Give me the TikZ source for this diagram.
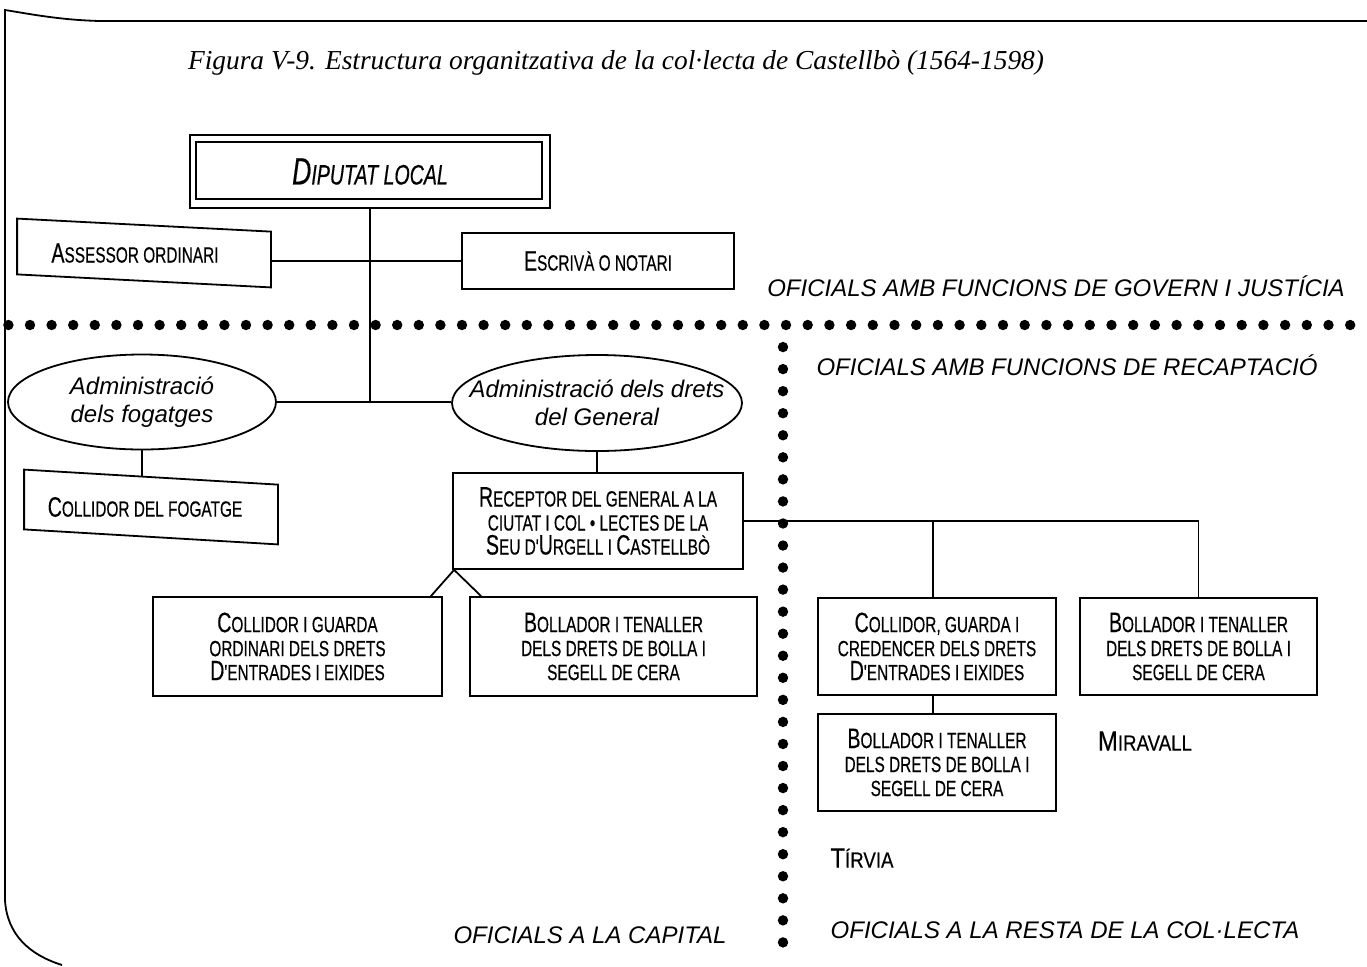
\documentclass[tikz,border=0pt]{standalone}
\usepackage{fontspec}
\setmainfont{Liberation Serif}
\newfontfamily\cond[FakeStretch=0.7,FakeBold=0.4]{Liberation Sans}
\newfontfamily\placef[FakeStretch=0.85,FakeBold=0.4]{Liberation Sans}
\newfontfamily\labf{Liberation Sans}
\usetikzlibrary{shapes.geometric}
\newcommand\bxf{\cond\fontsize{11}{12}\selectfont}
\newcommand\K[1]{{\fontsize{14}{12}\selectfont #1}}
\newcommand\KK[1]{{\fontsize{19}{14}\selectfont #1}}
\begin{document}
\begin{tikzpicture}[x=0.5pt,y=-0.5pt,line width=0.9pt,
  bx/.style={draw,rectangle,inner sep=0pt,align=center,font=\bxf},
  sk/.style={rectangle,inner sep=0pt,align=center,font=\bxf},
  el/.style={draw,ellipse,inner sep=0pt,align=center,font=\labf\itshape\fontsize{12}{14}\selectfont},
  lab/.style={inner sep=0pt,font=\labf\itshape\fontsize{12}{14}\selectfont},
  plc/.style={inner sep=0pt,font=\placef\fontsize{11}{12}\selectfont},
  dotm/.style={fill=black,draw=none}]
\useasboundingbox (0,0) rectangle (1367,966);

% page border
\draw (1367,21) -- (100,21) .. controls (60,20) and (30,14) .. (5,10) -- (5,900)
  .. controls (7,935) and (30,955) .. (62,965);

% title
\node[inner sep=0pt,font=\itshape\fontsize{13.7}{16}\selectfont] (title) at (616,63)
  {Figura V-9. Estructura organitzativa de la col·lecta de Castellbò (1564-1598)};

% nodes
\node[bx,minimum width=180pt,minimum height=36.5pt,font=\cond\itshape\fontsize{14}{14}\selectfont] (dip) at (370,171.5) {\KK{D}IPUTAT LOCAL};
\draw ([shift={(3.5pt,-4pt)}]dip.north west) rectangle ([shift={(-4.5pt,5pt)}]dip.south east);

\node[sk,minimum width=126pt,minimum height=27pt] (ass) at (144,253) {\hspace*{-9pt}\K{A}SSESSOR ORDINARI};
\draw ([yshift=3.25pt]ass.north west) -- ([yshift=-3.25pt]ass.north east) -- ([yshift=-3.25pt]ass.south east) -- ([yshift=3.25pt]ass.south west) -- cycle;

\node[bx,minimum width=136pt,minimum height=28pt] (esc) at (598,261) {\K{E}SCRIVÀ O NOTARI};

\node[el,minimum width=134pt,minimum height=47.5pt] (ell1) at (142,402) {Administració\\dels fogatges};
\node[el,minimum width=145pt,minimum height=48pt,inner xsep=-13pt] (ell2) at (597,403) {Administració dels drets\\del General};

\node[sk,minimum width=126pt,minimum height=29pt] (fog) at (151,507) {\hspace*{-6pt}\K{C}OLLIDOR DEL FOGATGE};
\draw ([yshift=3.75pt]fog.north west) -- ([yshift=-3.75pt]fog.north east) -- ([yshift=-3.75pt]fog.south east) -- ([yshift=3.75pt]fog.south west) -- cycle;

\node[bx,minimum width=145pt,minimum height=48pt] (rec) at (598,521)
  {\K{R}ECEPTOR DEL GENERAL A LA\\CIUTAT I COL • LECTES DE LA\\\K{S}EU D'\K{U}RGELL I \K{C}ASTELLBÒ};

\node[bx,minimum width=144.5pt,minimum height=49.5pt] (cg) at (297.5,646.5)
  {\K{C}OLLIDOR I GUARDA\\ORDINARI DELS DRETS\\\K{D}'ENTRADES I EIXIDES};
\node[bx,minimum width=143.5pt,minimum height=49.5pt] (bol1) at (613.5,646.5)
  {\K{B}OLLADOR I TENALLER\\DELS DRETS DE BOLLA I\\SEGELL DE CERA};

\node[bx,minimum width=119pt,minimum height=48.5pt] (cgc) at (937,646.5)
  {\K{C}OLLIDOR, GUARDA I\\CREDENCER DELS DRETS\\\K{D}'ENTRADES I EIXIDES};
\node[bx,minimum width=118.5pt,minimum height=48.5pt] (bol2) at (1198.5,646.5)
  {\K{B}OLLADOR I TENALLER\\DELS DRETS DE BOLLA I\\SEGELL DE CERA};
\node[bx,minimum width=119pt,minimum height=48.5pt] (bol3) at (937,762.5)
  {\K{B}OLLADOR I TENALLER\\DELS DRETS DE BOLLA I\\SEGELL DE CERA};

\node[plc] (mir) at (1145,741) {\K{M}IRAVALL};
\node[plc] (tir) at (862,858) {\K{T}ÍRVIA};

% region labels
\node[lab] (lgov) at (1056,286) {OFICIALS AMB FUNCIONS DE GOVERN I JUSTÍCIA};
\node[lab] (lrec) at (1067,365) {OFICIALS AMB FUNCIONS DE RECAPTACIÓ};
\node[lab] (lcap) at (590,935) {OFICIALS A LA CAPITAL};
\node[lab] (lres) at (1065,930) {OFICIALS A LA RESTA DE LA COL·LECTA};

% connectors
\coordinate (j1) at (dip.south |- ell1.east);
\draw (dip.south) -- (j1);
\draw (ass.east |- esc.west) -- (esc.west);
\draw (ell1.east) -- (ell1.east -| ell2.west);
\draw (ell1.south) -- (ell1.south |- fog.north);
\draw (ell2.south) -- (ell2.south |- rec.north);
\coordinate (fk) at ([xshift=1pt]rec.south west);
\draw ([xshift=-6pt]cg.north east) -- (fk) -- ([xshift=6pt]bol1.north west);
\coordinate (j2) at (bol2.north |- rec.east);
\coordinate (j3) at ([xshift=-2pt]cgc.north |- rec.east);
\draw (rec.east) -- (j2) -- (bol2.north);
\draw (j3) -- ([xshift=-2pt]cgc.north);
\draw ([xshift=-2pt]cgc.south) -- ([xshift=-2pt]bol3.north);

% dotted separators
\foreach \i in {0,...,36} \fill[dotm] (786-21.6*\i,325) circle (2.6pt);
\foreach \i in {1,...,26} \fill[dotm] (786+21.7*\i,325) circle (2.6pt);
\foreach \i in {1,...,28} \fill[dotm] (783,325+22.05*\i) circle (2.6pt);
\end{tikzpicture}
\end{document}
